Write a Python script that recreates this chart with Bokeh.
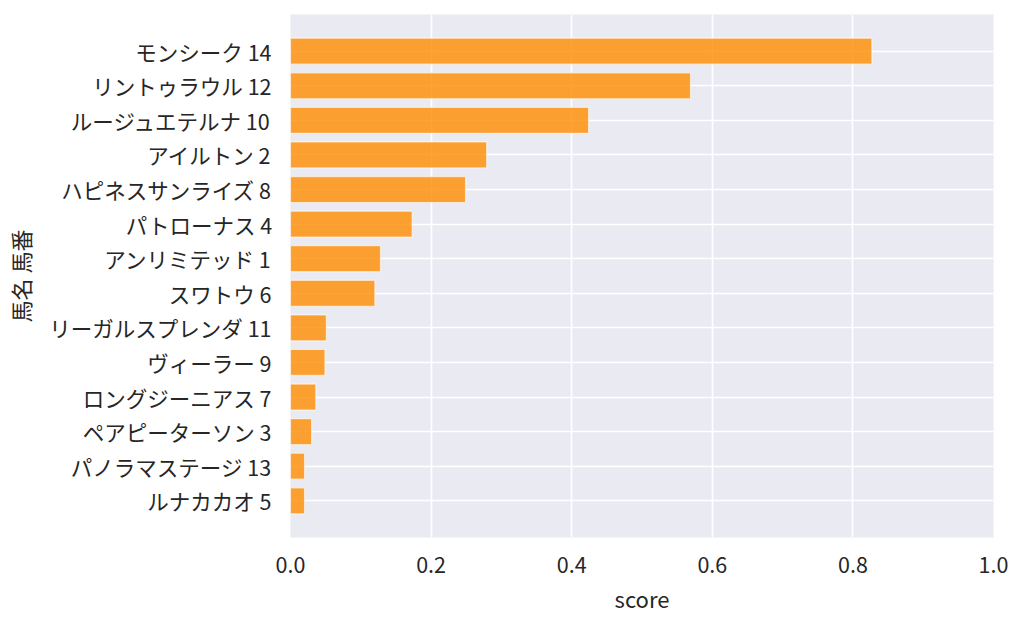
from bokeh.plotting import figure
from bokeh.models import ColumnDataSource, FactorRange
from bokeh.embed import file_html
from bokeh.resources import INLINE

horses = ["モンシーク 14", "リントゥラウル 12", "ルージュエテルナ 10", "アイルトン 2",
          "ハピネスサンライズ 8", "パトローナス 4", "アンリミテッド 1", "スワトウ 6",
          "リーガルスプレンダ 11", "ヴィーラー 9", "ロングジーニアス 7", "ペアピーターソン 3",
          "パノラマステージ 13", "ルナカカオ 5"]
scores = [0.827, 0.569, 0.424, 0.279, 0.249, 0.173, 0.128, 0.120,
          0.051, 0.049, 0.036, 0.030, 0.020, 0.020]
x_ticks = [0.0, 0.2, 0.4, 0.6, 0.8, 1.0]

FONT = "Noto Sans CJK JP"

src = ColumnDataSource(dict(horse=horses, score=scores))
yr = FactorRange(factors=list(reversed(horses)), range_padding=0.56,
                 range_padding_units="absolute")

p = figure(y_range=yr, x_range=(0, 1), output_backend="svg", toolbar_location=None,
           frame_width=703, frame_height=523, min_border_left=290, min_border_right=15,
           min_border_top=14, min_border_bottom=74, background_fill_color="#EAEAF2",
           border_fill_color="white")
p.outline_line_color = None

p.hbar(y="horse", right="score", left=0, height=0.75, source=src,
       fill_color="#FF8C00", fill_alpha=0.8, line_color="white", line_alpha=0.6,
       line_width=1.2)

p.xaxis.ticker = x_ticks
p.xaxis.major_label_overrides = {t: f"{t:.1f}" for t in x_ticks}
for ax in (p.xaxis[0], p.yaxis[0]):
    ax.axis_line_color = None
    ax.major_tick_line_color = None
    ax.minor_tick_line_color = None
    ax.major_label_text_font = FONT
    ax.major_label_text_font_size = "21.5px"
    ax.major_label_text_color = "#262626"
    ax.axis_label_text_font = FONT
    ax.axis_label_text_font_size = "22px"
    ax.axis_label_text_font_style = "normal"
    ax.axis_label_text_color = "#262626"

p.xaxis.axis_label = "score"
p.yaxis.axis_label = "馬名 馬番"
p.xaxis.major_label_standoff = 13
p.yaxis.major_label_standoff = 13
p.xaxis.axis_label_standoff = 6
p.yaxis.axis_label_standoff = 10

p.xgrid.grid_line_color = "white"
p.xgrid.grid_line_width = 1.6
p.ygrid.grid_line_color = "white"
p.ygrid.grid_line_width = 1.6

open("out.html", "w").write(file_html(p, INLINE))
